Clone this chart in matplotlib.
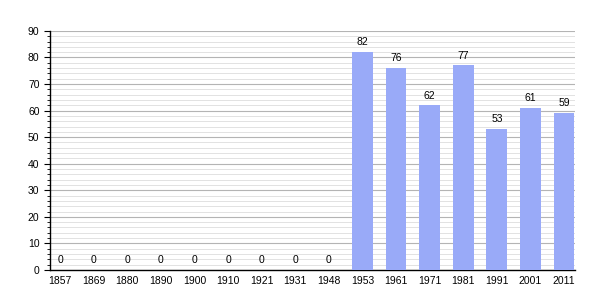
import matplotlib
matplotlib.use("Agg")
import matplotlib.pyplot as plt
from matplotlib.ticker import MultipleLocator

years = ["1857", "1869", "1880", "1890", "1900", "1910", "1921", "1931", "1948",
         "1953", "1961", "1971", "1981", "1991", "2001", "2011"]
population = [0, 0, 0, 0, 0, 0, 0, 0, 0, 82, 76, 62, 77, 53, 61, 59]

plt.rcParams['font.family'] = ['Liberation Sans', 'DejaVu Sans']
fig = plt.figure(figsize=(6.05, 3.0), dpi=100)
ax = fig.add_axes([0.0826, 0.1, 0.868, 0.797])

x = list(range(len(years)))
ax.bar(x, population, width=0.62, color='#99aaf8', zorder=3)
for xi, v in zip(x, population):
    ax.text(xi, v + 1.8, str(v), ha='center', va='bottom', fontsize=7.5, zorder=4)

ax.set_xlim(-0.3, len(years) - 0.67)
ax.set_ylim(0, 90)
ax.set_xticks(x)
ax.set_xticklabels(years, fontsize=7.5)
ax.yaxis.set_major_locator(MultipleLocator(10))
ax.yaxis.set_minor_locator(MultipleLocator(2))
ax.tick_params(axis='y', labelsize=7.5, which='major', length=4, width=0.8, direction='out')
ax.tick_params(axis='y', which='minor', length=2.5, width=0.6)
ax.tick_params(axis='x', length=0, pad=4)
ax.grid(axis='y', which='major', color='#b4b4b4', linewidth=0.8, zorder=0)
ax.grid(axis='y', which='minor', color='#e2e2e2', linewidth=0.7, zorder=0)
for s in ['top', 'right']:
    ax.spines[s].set_visible(False)
ax.spines['left'].set_linewidth(1.0)
ax.spines['bottom'].set_linewidth(1.0)

fig.savefig("out.png", dpi=100)
